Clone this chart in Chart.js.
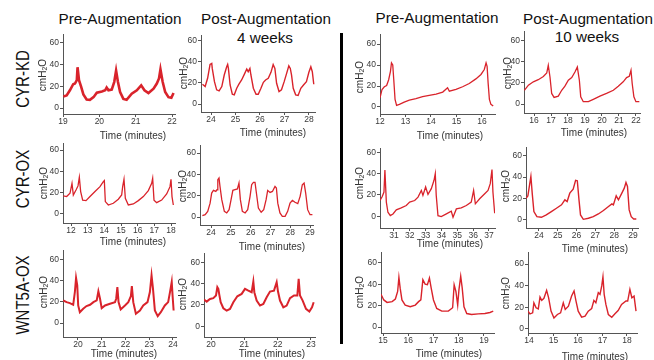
<!DOCTYPE html>
<html>
<head>
<meta charset="utf-8">
<script src="https://cdn.jsdelivr.net/npm/chart.js@4"></script>
<style>
  body { margin: 0; background: #fff; }
  #fig { position: relative; width: 654px; height: 360px; overflow: hidden; font-family: "Liberation Sans", Arial, sans-serif; }
  #fig canvas { position: absolute; }
  .lbl { position: absolute; white-space: nowrap; color: #111; transform-origin: center; }
  .head { font-size: 14px; }
  .row { font-size: 15px; }
  .xt { font-size: 10px; color: #333; }
  .yt { font-size: 10px; color: #333; }
  .yt sub { font-size: 7px; vertical-align: -1px; }
  #divider { position: absolute; left: 340px; top: 33px; width: 3px; height: 311px; background: #000; }
</style>
</head>
<body>
<div id="fig"><div id="divider"></div></div>
<script>
// time (minutes) and pressure (cmH2O)
const kdPreT = [19.01,19.10,19.19,19.28,19.33,19.38,19.40,19.44,19.50,19.56,19.65,19.74,19.84,19.93,20.07,20.16,20.20,20.25,20.34,20.41,20.46,20.51,20.57,20.66,20.75,20.89,21.03,21.15,21.24,21.35,21.49,21.58,21.64,21.68,21.74,21.81,21.90,21.98,22.04];
const kdPreP = [10.6,11.6,16.3,21.9,22.5,25.6,37.5,25.6,19.4,12.5,7.8,7.5,10,14.1,15.3,16.3,18.8,16.3,16.9,24.1,34.4,24.1,14.7,8.4,7.5,13.1,16.3,20.9,16.3,13.8,17.8,22.5,27.2,35.6,24.1,14.7,10,9.4,13.8];

const kdPost4T = [23.65,23.76,23.86,23.96,24.03,24.05,24.14,24.23,24.33,24.44,24.54,24.64,24.68,24.71,24.78,24.87,24.95,25.05,25.14,25.25,25.36,25.46,25.52,25.59,25.63,25.73,25.84,25.93,26.04,26.14,26.23,26.34,26.45,26.54,26.61,26.68,26.78,26.88,26.99,27.09,27.18,27.24,27.29,27.36,27.46,27.56,27.67,27.78,27.90,28.00,28.08,28.14,28.20];
const kdPost4P = [18.7,16.5,24.3,37.3,38.3,33.6,21.1,13.4,12.4,16.5,27.4,35.1,37.3,33.6,18,9.3,8.7,14.9,18.7,22.7,28,33,30.5,33.6,27.4,14.9,9.3,9.3,14.9,20.5,22.7,24.3,29.9,37.3,33.6,19.6,11.8,13.4,21.1,28.9,36.1,33.6,27.4,14.9,8.7,8.1,14.9,18,21.1,29.9,35.1,30.5,18.7];

const kdPre2T = [12.0,12.08,12.17,12.26,12.34,12.41,12.45,12.50,12.54,12.59,12.65,12.76,12.95,13.15,13.41,13.67,13.93,14.20,14.46,14.65,14.72,14.98,15.24,15.50,15.76,15.96,16.09,16.16,16.20,16.24,16.29,16.35,16.44];
const kdPre2P = [8.8,16.7,19.3,20.5,26,34,42,40,26,7.3,1.6,2.5,4.7,6.6,7.9,9.8,11,12.3,14.2,18.3,15,16.7,19.3,22.4,26.8,31,35.7,42,38.8,23,7.3,2.5,0.9];

const kdPost10T = [15.43,15.67,15.96,16.25,16.55,16.75,16.84,16.94,17.04,17.18,17.43,17.63,17.82,18.02,18.22,18.41,18.55,18.67,18.75,18.90,19.20,19.49,19.88,20.27,20.67,20.96,21.25,21.45,21.61,21.71,21.78,21.88,22.00,22.20];
const kdPost10P = [13,17.8,21,23,26,29.4,36.6,25.6,10,6.3,7.5,13,16.9,22.5,25,30.3,35,22.5,6.9,2.2,2.2,4.4,7.5,10,13,16.9,21,25,26.3,31.9,19.4,6.9,2.2,2.2];

const oxPreT = [11.54,11.74,11.94,12.06,12.14,12.30,12.42,12.50,12.58,12.70,12.90,13.14,13.44,13.74,13.94,14.00,14.06,14.24,14.54,14.84,15.04,15.10,15.18,15.26,15.44,15.74,16.04,16.34,16.64,16.84,16.90,16.98,17.14,17.44,17.74,17.94,18.00,18.06,18.14];
const oxPreP = [16.9,16.3,19.4,28.7,17.8,22.5,26.3,34.4,21,13,12.5,16.3,21,25.6,30.3,31.3,11.6,8.4,10,13.8,17.8,25.6,32.5,14.7,8.4,9.4,12.5,16.3,21.9,28.7,33.4,13,10.6,13,18.8,25.6,32.5,16.3,8.4];

const oxPost4T = [23.56,23.70,23.83,23.95,24.03,24.12,24.24,24.30,24.34,24.40,24.45,24.54,24.67,24.79,24.91,25.01,25.10,25.21,25.33,25.41,25.48,25.58,25.72,25.85,25.97,26.05,26.14,26.22,26.29,26.39,26.53,26.66,26.78,26.86,26.98,27.10,27.23,27.30,27.37,27.48,27.60,27.74,27.87,27.99,28.11,28.24,28.38,28.50,28.61,28.70,28.78,28.88,29.00,29.12];
const oxPost4P = [1.3,2.2,5.3,13,22.5,25,24,25.6,35,36.6,28.7,16.3,5.3,3.8,6.9,16.3,25,25.6,26.3,31.9,16.3,5.3,3.8,6.9,19.4,30.3,32.5,32.5,22.5,8.4,4.4,6.9,16.3,25,23.1,24,28.7,27.2,13,3.8,0.6,0.6,5.3,13,15.6,13.8,12.5,19.4,30.3,31.9,22.5,6.9,2.2,2.2];

const oxPre2T = [30.12,30.26,30.37,30.43,30.52,30.62,30.77,30.94,31.15,31.46,31.78,31.99,32.31,32.52,32.73,32.83,33.00,33.15,33.36,33.53,33.61,33.67,33.78,33.99,34.31,34.62,34.73,34.94,35.25,35.57,35.88,36.03,36.14,36.41,36.73,36.94,37.08,37.19,37.25,37.36];
const oxPre2P = [14.8,18.6,22.7,43.3,13.3,3.8,0.6,2.2,6,7.9,10.1,13.3,14.8,18,24.3,19.6,27.5,20.5,25.9,33.8,40.1,19.6,0.6,-0.3,2.2,4.7,-0.9,6.9,7.9,10.1,13.3,24.3,11.7,16.4,21.2,24.3,30.6,43.9,22.7,2.8];

const oxPost10T = [23.31,23.41,23.50,23.57,23.64,23.73,23.89,24.13,24.39,24.66,24.93,25.20,25.38,25.50,25.64,25.82,25.95,26.04,26.13,26.21,26.36,26.63,26.89,27.16,27.43,27.70,27.88,27.96,28.11,28.23,28.41,28.54,28.63,28.71,28.80,28.91,29.04,29.18];
const oxPost10P = [20.3,22.5,32.8,40.6,25,7.8,3.1,2.5,4.7,7.8,10.9,14.1,18.8,17.2,25,28.8,36.9,36.6,18.8,4.7,0.6,1.6,3.1,5.6,8.8,12.5,15,14.1,22.5,18.8,25,29.7,35,31.3,9.4,3.1,0.9,0.9];

const wntPreT = [19.38,19.52,19.66,19.80,19.87,19.92,19.97,20.01,20.08,20.22,20.36,20.51,20.65,20.79,20.86,20.93,21.00,21.14,21.35,21.56,21.61,21.66,21.71,21.80,21.98,22.12,22.23,22.27,22.33,22.44,22.61,22.75,22.93,23.03,23.10,23.16,23.24,23.36,23.49,23.66,23.80,23.89,23.95,23.99,24.03];
const wntPreP = [21.3,19.7,18.8,17.2,29.2,42.3,35.4,16.6,10.3,13.5,16,17.2,19.7,21.3,29.8,22.9,14.1,16.6,18.2,19.7,22.9,33.9,19.7,12.9,16.6,19.7,25.4,34.8,19.7,8.8,11.9,16.6,19.7,29.2,44.8,32.3,11.9,6.6,10.3,16.6,19.7,30.7,38.6,24.5,11.9];

const wntPost4T = [19.79,19.87,19.97,20.07,20.15,20.19,20.22,20.25,20.29,20.37,20.47,20.57,20.67,20.79,20.92,21.02,21.12,21.22,21.27,21.30,21.37,21.47,21.57,21.67,21.77,21.89,21.97,22.01,22.07,22.17,22.27,22.37,22.49,22.59,22.63,22.67,22.75,22.85,22.95,23.03,23.08];
const wntPost4P = [25,23.1,25.6,26.3,28.8,36.6,35,29.4,22.5,16.9,14.7,16.3,22.5,28.1,30.3,35,33.4,31.9,41.9,31.9,24.1,19.4,20.9,27.2,32.5,33.4,41.3,32.5,24.1,17.8,19.4,26.3,28.8,28.8,44.4,28.8,24.1,16.3,13.8,17.8,22.5];

const wntPre2T = [14.92,15.03,15.16,15.36,15.49,15.58,15.63,15.68,15.75,15.88,16.08,16.28,16.41,16.50,16.58,16.67,16.76,16.84,16.91,17.00,17.13,17.33,17.59,17.76,17.82,17.89,17.96,18.01,18.08,18.14,18.21,18.32,18.51,18.78,19.04,19.24,19.37];
const wntPre2P = [30.6,25.3,23,23.7,26.2,33.2,46.4,36.3,25.3,20.5,18.9,20.5,23.7,25.3,44.2,40.1,39.5,45.8,36.3,25.3,17.4,14.8,14.8,18,39.5,33.2,20.5,34.7,47.4,36.3,18.9,12.6,11.7,12.3,12.6,13.6,14.8];

const wntPost10T = [13.96,14.04,14.15,14.20,14.29,14.38,14.45,14.52,14.61,14.72,14.80,14.90,15.02,15.16,15.29,15.40,15.48,15.61,15.74,15.84,15.92,16.01,16.15,16.29,16.42,16.56,16.65,16.73,16.83,16.90,16.97,17.02,17.07,17.14,17.24,17.38,17.51,17.64,17.78,17.96,18.03,18.12,18.20,18.29,18.37];
const wntPost10P = [16.5,14,14.9,24.2,19.6,18.6,29.5,26.4,28.3,35.7,28.9,16.5,10.2,13.4,14.9,24.2,18,21.1,30.4,35.1,25.8,16.5,10.9,11.8,16.5,18.9,26.4,24.2,33.5,32,39.8,48.1,32,22.7,13.4,10.9,14,17.1,22.7,25.8,25.8,36.6,28.9,30.4,16.5];

// tick labels
const yTicks = [0, 20, 40, 60];
const kdPreTicks = [19, 20, 21, 22];
const kdPost4Ticks = [24, 25, 26, 27, 28];
const kdPre2Ticks = [12, 13, 14, 15, 16];
const kdPost10Ticks = [16, 17, 18, 19, 20, 21, 22];
const oxPreTicks = [12, 13, 14, 15, 16, 17, 18];
const oxPost4Ticks = [24, 25, 26, 27, 28, 29];
const oxPre2Ticks = [31, 32, 33, 34, 35, 36, 37];
const oxPost10Ticks = [24, 25, 26, 27, 28, 29];
const wntPreTicks = [20, 21, 22, 23, 24];
const wntPost4Ticks = [20, 21, 22, 23];
const wntPre2Ticks = [15, 16, 17, 18, 19];
const wntPost10Ticks = [14, 15, 16, 17, 18];

const RED = "#d9232b";
const FONT = "'Liberation Sans', Arial, sans-serif";
const PADL = 30, PADT = 6, PADR = 12, PADB = 14;

// plot box in page pixels + axis ranges
const panels = [
  { t: kdPreT, p: kdPreP, ticks: kdPreTicks, box: [63, 175, 34, 114], x: [19.0, 22.08], y: [-5.5, 68], lw: 2.6, yt: [42, 75], xt: [133, 135] },
  { t: kdPost4T, p: kdPost4P, ticks: kdPost4Ticks, box: [201, 315, 35, 112], x: [23.59, 28.25], y: [-7.5, 65], lw: 1.4, yt: [183, 73], xt: [273, 132] },
  { t: kdPre2T, p: kdPre2P, ticks: kdPre2Ticks, box: [380, 495, 34, 114], x: [12.0, 16.51], y: [-6.7, 69.5], lw: 1.3, yt: [359, 77], xt: [450, 135] },
  { t: kdPost10T, p: kdPost10P, ticks: kdPost10Ticks, box: [524, 640, 31, 113], x: [15.41, 22.24], y: [-8.5, 69], lw: 1.3, yt: [507, 73], xt: [594, 132] },
  { t: oxPreT, p: oxPreP, ticks: oxPreTicks, box: [63, 175, 143, 223], x: [11.52, 18.24], y: [-8.5, 66.5], lw: 1.3, yt: [43, 183], xt: [133, 241] },
  { t: oxPost4T, p: oxPost4P, ticks: oxPost4Ticks, box: [200, 313, 145, 225], x: [23.44, 29.15], y: [-7.5, 67.5], lw: 1.3, yt: [182, 186], xt: [272, 246] },
  { t: oxPre2T, p: oxPre2P, ticks: oxPre2Ticks, box: [380, 495, 148, 228], x: [30.12, 37.38], y: [-11, 64], lw: 1.3, yt: [359, 183], xt: [450, 243] },
  { t: oxPost10T, p: oxPost10P, ticks: oxPost10Ticks, box: [526, 638, 147, 228], x: [23.31, 29.27], y: [-7.5, 68], lw: 1.4, yt: [505, 186], xt: [595, 248] },
  { t: wntPreT, p: wntPreP, ticks: wntPreTicks, box: [63, 176, 250, 337], x: [19.37, 24.13], y: [-13, 68.5], lw: 2, yt: [43, 292], xt: [124, 353] },
  { t: wntPost4T, p: wntPost4P, ticks: wntPost4Ticks, box: [204, 315, 253, 337], x: [19.79, 23.12], y: [-10, 68.5], lw: 2, yt: [182, 294], xt: [272, 353] },
  { t: wntPre2T, p: wntPre2P, ticks: wntPre2Ticks, box: [381, 494, 252, 333], x: [14.92, 19.4], y: [-5.6, 70], lw: 1.4, yt: [359, 292], xt: [449, 353] },
  { t: wntPost10T, p: wntPost10P, ticks: wntPost10Ticks, box: [528, 637, 252, 333], x: [13.96, 18.41], y: [-3.7, 71], lw: 1.4, yt: [505, 293], xt: [595, 356] }
];

const headers = [
  ["Pre-Augmentation", 120, 18.5], ["Post-Augmentation", 266, 18.5], ["4 weeks", 265, 37.5],
  ["Pre-Augmentation", 436.5, 18], ["Post-Augmentation", 588, 18.5], ["10 weeks", 587, 37]
];
const rowNames = [["CYR-KD", 21.5, 78.5], ["CYR-OX", 21.5, 178.5], ["WNT5A-OX", 21.5, 295]];

const fig = document.getElementById("fig");

function addLabel(html, cls, x, y, extra) {
  const d = document.createElement("div");
  d.className = "lbl " + cls;
  d.innerHTML = html;
  d.style.left = x + "px";
  d.style.top = y + "px";
  d.style.transform = "translate(-50%,-50%)" + (extra || "");
  fig.appendChild(d);
}

headers.forEach(h => addLabel(h[0], "head", h[1], h[2], " scaleX(1.09)"));
rowNames.forEach(r => addLabel(r[0], "row", r[1], r[2], " rotate(-90deg) scaleY(1.2)"));

function axisOpts(min, max, ticks, isX) {
  return {
    type: "linear",
    min: min,
    max: max,
    afterFit: s => { if (isX) s.height = PADB; else s.width = PADL; },
    afterBuildTicks: s => { s.ticks = ticks.map(v => ({ value: v })); },
    grid: { drawOnChartArea: false, tickLength: 3, color: "#555" },
    border: { color: "#555", width: 1 },
    ticks: { padding: isX ? 0 : 1, autoSkip: false, maxRotation: 0, color: "#3a3a3a", font: { size: 8.5, family: FONT } }
  };
}

panels.forEach(pn => {
  const [l, r, t, b] = pn.box;
  const cv = document.createElement("canvas");
  const w = (r - l) + PADL + PADR;
  const h = (b - t) + PADT + PADB;
  cv.width = w;
  cv.height = h;
  cv.style.left = (l - PADL) + "px";
  cv.style.top = (t - PADT) + "px";
  cv.style.width = w + "px";
  cv.style.height = h + "px";
  fig.appendChild(cv);

  new Chart(cv, {
    type: "line",
    data: {
      datasets: [{
        data: pn.t.map((v, i) => ({ x: v, y: pn.p[i] })),
        borderColor: RED,
        borderWidth: pn.lw,
        pointRadius: 0,
        tension: 0
      }]
    },
    options: {
      responsive: false,
      animation: false,
      devicePixelRatio: 1,
      layout: { autoPadding: false, padding: { left: 0, top: PADT, right: PADR, bottom: 0 } },
      plugins: { legend: { display: false }, tooltip: { enabled: false } },
      scales: {
        x: axisOpts(pn.x[0], pn.x[1], pn.ticks, true),
        y: axisOpts(pn.y[0], pn.y[1], yTicks, false)
      }
    }
  });

  addLabel("cmH<sub>2</sub>O", "yt", pn.yt[0], pn.yt[1], " rotate(-90deg)");
  addLabel("Time (minutes)", "xt", pn.xt[0], pn.xt[1]);
});
</script>
</body>
</html>
